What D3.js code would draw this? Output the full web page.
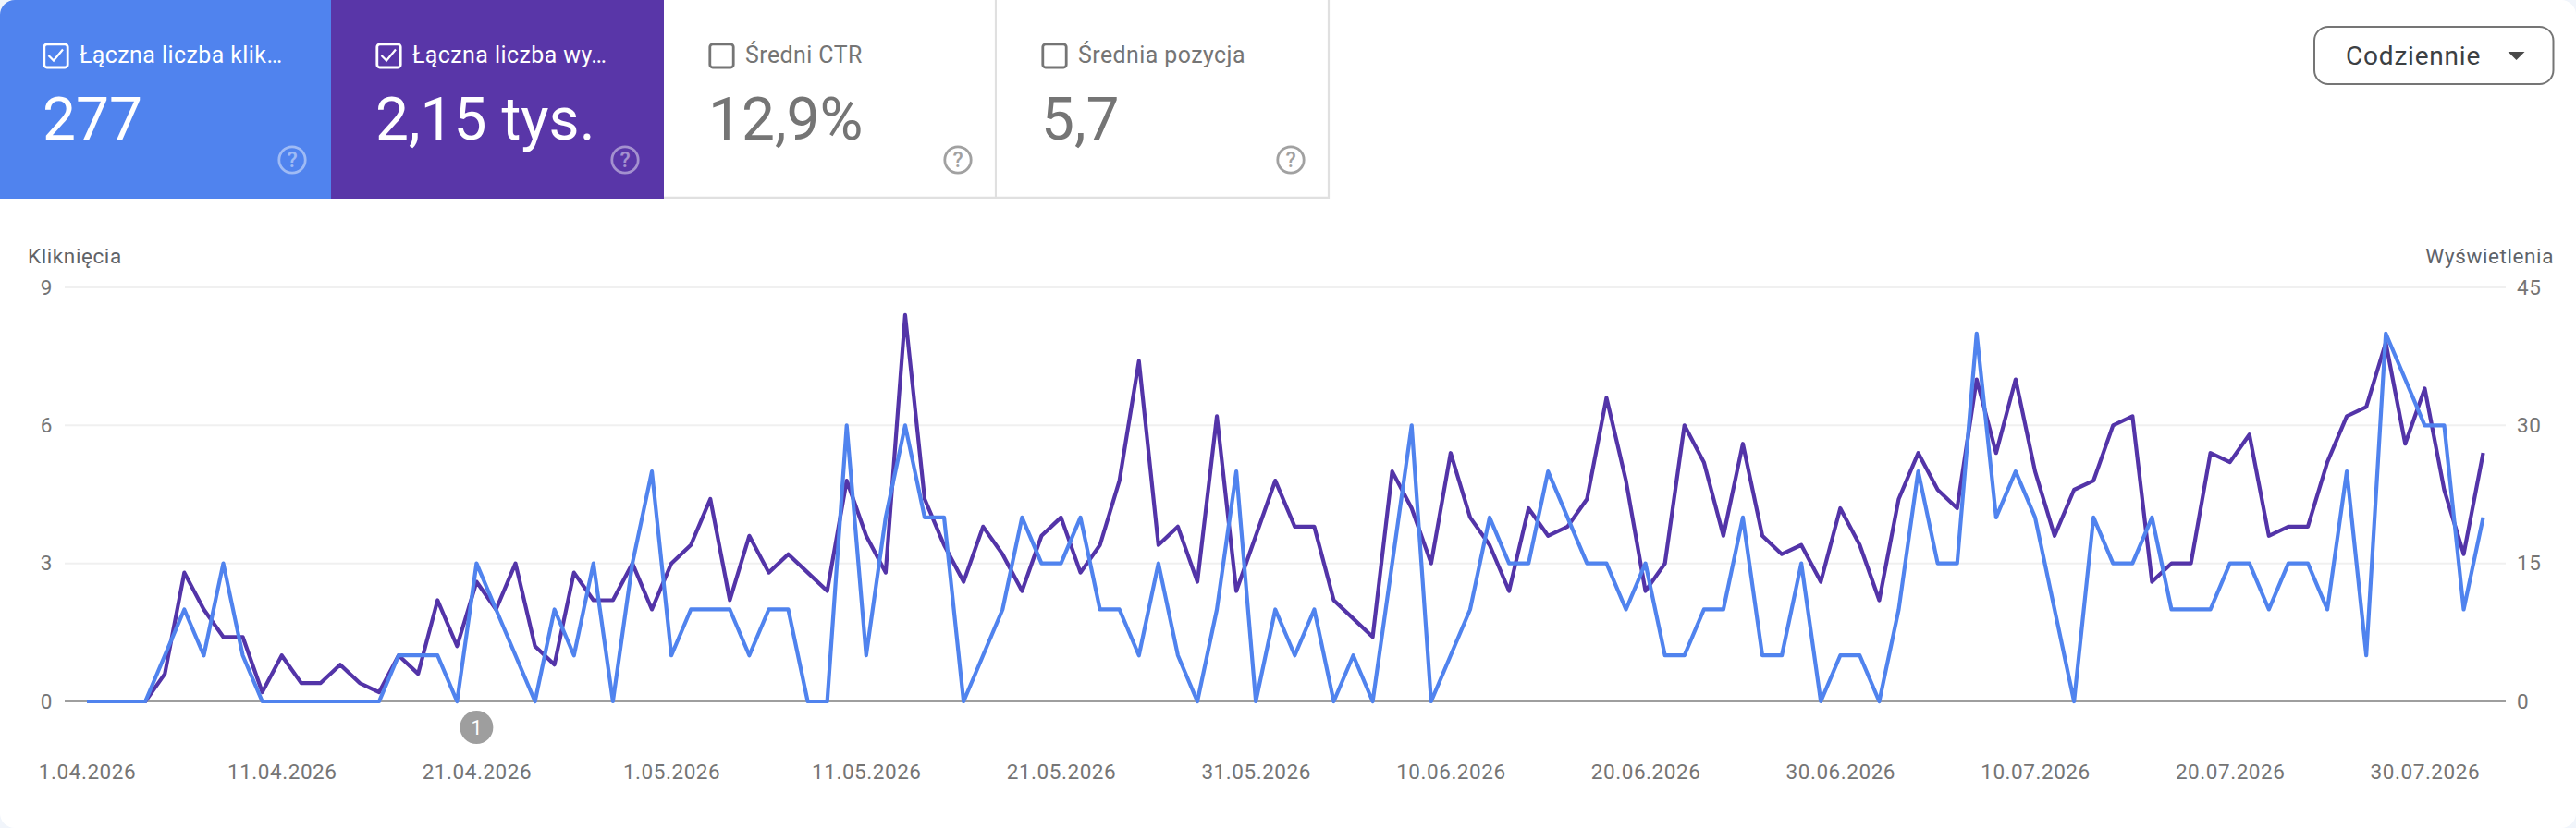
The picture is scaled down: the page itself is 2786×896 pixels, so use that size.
<!DOCTYPE html>
<html lang="pl">
<head>
<meta charset="utf-8">
<title>Skuteczność</title>
<script src="https://cdn.jsdelivr.net/npm/d3@7"></script>
<style>
  html, body { margin: 0; padding: 0; background: #f1f5fb; }
  svg { display: block; font-family: Roboto, sans-serif; }
  .axis path { display: none; }
  .axis text { fill: #757575; font-size: 22.5px; letter-spacing: 0.55px; font-family: Roboto, sans-serif; }
</style>
</head>
<body>
<svg id="chart" width="2786" height="896"></svg>
<script>
// one value per day, starting at 1.04.2026
const clicks = [
  0, 0, 0, 0, 1, 2, 1, 3, 1, 0,
  0, 0, 0, 0, 0, 0, 1, 1, 1, 0,
  3, 2, 1, 0, 2, 1, 3, 0, 3, 5,
  1, 2, 2, 2, 1, 2, 2, 0, 0, 6,
  1, 4, 6, 4, 4, 0, 1, 2, 4, 3,
  3, 4, 2, 2, 1, 3, 1, 0, 2, 5,
  0, 2, 1, 2, 0, 1, 0, 3, 6, 0,
  1, 2, 4, 3, 3, 5, 4, 3, 3, 2,
  3, 1, 1, 2, 2, 4, 1, 1, 3, 0,
  1, 1, 0, 2, 5, 3, 3, 8, 4, 5,
  4, 2, 0, 4, 3, 3, 4, 2, 2, 2,
  3, 3, 2, 3, 3, 2, 5, 1, 8, 7,
  6, 6, 2, 4
];
const impressions = [
  0, 0, 0, 0, 3, 14, 10, 7, 7, 1,
  5, 2, 2, 4, 2, 1, 5, 3, 11, 6,
  13, 10, 15, 6, 4, 14, 11, 11, 15, 10,
  15, 17, 22, 11, 18, 14, 16, 14, 12, 24,
  18, 14, 42, 22, 17, 13, 19, 16, 12, 18,
  20, 14, 17, 24, 37, 17, 19, 13, 31, 12,
  18, 24, 19, 19, 11, 9, 7, 25, 21, 15,
  27, 20, 17, 12, 21, 18, 19, 22, 33, 24,
  12, 15, 30, 26, 18, 28, 18, 16, 17, 13,
  21, 17, 11, 22, 27, 23, 21, 35, 27, 35,
  25, 18, 23, 24, 30, 31, 13, 15, 15, 27,
  26, 29, 18, 19, 19, 26, 31, 32, 39, 28,
  34, 23, 16, 27
];
const days = d3.range(clicks.length);

const xTickDays = [0, 10, 20, 30, 40, 50, 60, 70, 80, 90, 100, 110, 120];
const xTickLabels = [
  "1.04.2026", "11.04.2026", "21.04.2026", "1.05.2026", "11.05.2026", "21.05.2026", "31.05.2026",
  "10.06.2026", "20.06.2026", "30.06.2026", "10.07.2026", "20.07.2026", "30.07.2026"
];
const clickTicks = [0, 3, 6, 9];
const impressionTicks = [0, 15, 30, 45];

const cardLabels = ["Łączna liczba klik…", "Łączna liczba wy…", "Średni CTR", "Średnia pozycja"];
const cardValues = ["277", "2,15 tys.", "12,9%", "5,7"];
const cardSelected = [true, true, false, false];
const cardColors = ["#5083ee", "#5936a8", "#ffffff", "#ffffff"];

const annotationDays = [20];
const annotationLabels = ["1"];

const lineBlue = "#5083ee";
const linePurple = "#5334a8";
const cardWidth = 360;
const cardHeight = 215;

const svg = d3.select("#chart");

// page card with rounded corners
svg.append("rect").attr("width", 2786).attr("height", 896).attr("rx", 16).attr("fill", "#fff");
svg.append("clipPath").attr("id", "page-clip")
  .append("rect").attr("width", 2786).attr("height", 896).attr("rx", 16);

// metric cards
const cards = svg.append("g").attr("clip-path", "url(#page-clip)")
  .selectAll("g").data(cardLabels).join("g")
  .attr("transform", (d, i) => `translate(${i * cardWidth},0)`);

cards.append("rect")
  .attr("x", -2)
  .attr("width", cardWidth)
  .attr("height", cardHeight)
  .attr("fill", (d, i) => cardColors[i]);

// thin frame for the two unselected cards
cards.filter((d, i) => !cardSelected[i]).append("path")
  .attr("d", `M-2,${cardHeight - 1.2}H${cardWidth - 3}V0`)
  .attr("fill", "none").attr("stroke", "#e0e0e0").attr("stroke-width", 2.2);

const fg = (i) => cardSelected[i] ? "#fff" : "#757575";

cards.append("rect")
  .attr("x", 47.8).attr("y", 47.8).attr("width", 25.4).attr("height", 25.2).attr("rx", 3)
  .attr("fill", "none")
  .attr("stroke", (d, i) => fg(i)).attr("stroke-width", 2.8);

cards.filter((d, i) => cardSelected[i]).append("path")
  .attr("d", "M52.5,60L58,65.5L68,53.5")
  .attr("fill", "none").attr("stroke", "#fff").attr("stroke-width", 2.2);

cards.append("text")
  .attr("x", 86).attr("y", 68)
  .attr("font-size", 24.9).attr("letter-spacing", 0.45)
  .attr("fill", (d, i) => fg(i))
  .text(d => d);

cards.append("text")
  .attr("x", 46).attr("y", 151)
  .attr("font-size", 64)
  .attr("fill", (d, i) => fg(i))
  .text((d, i) => cardValues[i]);

const help = cards.append("g")
  .attr("transform", "translate(316,173)")
  .attr("opacity", (d, i) => cardSelected[i] ? 0.45 : 0.68);
help.append("circle")
  .attr("r", 14.2).attr("fill", "none")
  .attr("stroke", (d, i) => cardSelected[i] ? "#fff" : "#757575").attr("stroke-width", 2.8);
help.append("text")
  .attr("y", 8).attr("text-anchor", "middle")
  .attr("font-size", 23).attr("font-weight", 500)
  .attr("fill", (d, i) => cardSelected[i] ? "#fff" : "#757575")
  .text("?");

// period button
svg.append("rect")
  .attr("x", 2503).attr("y", 29).attr("width", 258.5).attr("height", 62).attr("rx", 15)
  .attr("fill", "#fff").attr("stroke", "#757575").attr("stroke-width", 2);
svg.append("text")
  .attr("x", 2537).attr("y", 70)
  .attr("font-size", 28).attr("letter-spacing", 0.8)
  .attr("fill", "#3c4043")
  .text("Codziennie");
svg.append("path")
  .attr("d", "M2712.5,56H2730.5L2721.5,65Z")
  .attr("fill", "#4a4a4a");

// scales
const x = d3.scaleLinear().domain([0, 123]).range([94, 2685.6]);
const yClicks = d3.scaleLinear().domain([0, 9]).range([759, 311]);
const yImpressions = d3.scaleLinear().domain([0, 45]).range([759, 311]);

// grid
svg.append("g").selectAll("line").data(clickTicks).join("line")
  .attr("x1", 70).attr("x2", 2710)
  .attr("y1", d => yClicks(d)).attr("y2", d => yClicks(d))
  .attr("stroke", d => d === 0 ? "#9e9e9e" : "#f0f0f0")
  .attr("stroke-width", 2);

// axes
svg.append("g").attr("class", "axis")
  .attr("transform", "translate(57,0)")
  .call(d3.axisLeft(yClicks).tickValues(clickTicks).tickSize(0).tickPadding(0));

svg.append("g").attr("class", "axis")
  .attr("transform", "translate(2722,0)")
  .call(d3.axisRight(yImpressions).tickValues(impressionTicks).tickSize(0).tickPadding(0));

svg.append("g").attr("class", "axis")
  .attr("transform", "translate(0,843)")
  .call(d3.axisBottom(x).tickValues(xTickDays).tickSize(0).tickPadding(0)
    .tickFormat((d, i) => xTickLabels[i]))
  .selectAll("text").attr("y", 0).attr("dy", 0);

svg.append("text")
  .attr("x", 30).attr("y", 285).attr("font-size", 22.5).attr("letter-spacing", 0.6).attr("fill", "#5f6368")
  .text("Kliknięcia");
svg.append("text")
  .attr("x", 2762).attr("y", 285).attr("font-size", 22.5).attr("letter-spacing", 0.6).attr("fill", "#5f6368")
  .attr("text-anchor", "end")
  .text("Wyświetlenia");

// lines
const impressionLine = d3.line().x(d => x(d)).y(d => yImpressions(impressions[d]));
const clickLine = d3.line().x(d => x(d)).y(d => yClicks(clicks[d]));

svg.append("path").datum(days)
  .attr("d", impressionLine)
  .attr("fill", "none").attr("stroke", linePurple).attr("stroke-width", 4.2).attr("stroke-linejoin", "round");
svg.append("path").datum(days)
  .attr("d", clickLine)
  .attr("fill", "none").attr("stroke", lineBlue).attr("stroke-width", 4.2).attr("stroke-linejoin", "round");

// annotation marker under the zero line
const notes = svg.append("g").selectAll("g").data(annotationDays).join("g")
  .attr("transform", d => `translate(${x(d)},787)`);
notes.append("circle").attr("r", 18).attr("fill", "#9e9e9e");
notes.append("text")
  .attr("y", 7.5).attr("text-anchor", "middle")
  .attr("font-size", 21.3).attr("fill", "#fff")
  .text((d, i) => annotationLabels[i]);
</script>
</body>
</html>
